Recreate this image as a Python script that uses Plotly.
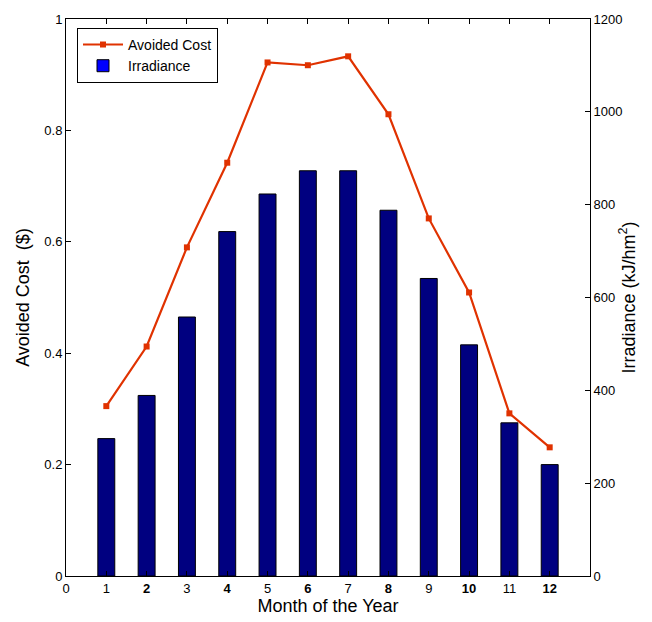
import plotly.graph_objects as go

months = list(range(1, 13))
avoided_cost = [0.305, 0.412, 0.590, 0.742, 0.922, 0.917, 0.933, 0.829, 0.642, 0.509, 0.292, 0.231]
irradiance = [296, 389, 558, 742, 823, 873, 873, 788, 641, 498, 330, 240]

x_tick_vals = list(range(0, 13))
x_tick_text = [f"<b>{m}</b>" if (m % 2 == 0 and m > 0) else str(m) for m in x_tick_vals]

font_family = "Liberation Sans, Arial, sans-serif"

fig = go.Figure()

# Irradiance bars on the right axis
fig.add_trace(go.Bar(
    x=months, y=irradiance, yaxis="y2", width=0.42,
    marker=dict(color="#000080", line=dict(color="black", width=1)),
    name="Irradiance", showlegend=False,
))

# Avoided cost line on the left axis
fig.add_trace(go.Scatter(
    x=months, y=avoided_cost, mode="lines+markers", name="Avoided Cost",
    line=dict(color="#E03200", width=2.2),
    marker=dict(symbol="square", size=6, color="#E03200"),
))

# Legend entry for the bars
fig.add_trace(go.Bar(
    x=[None], y=[None], yaxis="y2", name="Irradiance",
    marker=dict(color="#0000FF", line=dict(color="black", width=1)),
))

axis_common = dict(
    showgrid=False, zeroline=False, showline=True, linecolor="black", linewidth=1,
    ticks="inside", ticklen=5, tickcolor="black",
    tickfont=dict(family=font_family, size=13, color="black"),
)

fig.update_layout(
    width=652, height=622,
    margin=dict(l=66, r=62, t=14, b=42),
    paper_bgcolor="white", plot_bgcolor="white",
    font=dict(family=font_family, color="black"),
    barmode="overlay",
    xaxis=dict(
        range=[0, 13], tickvals=x_tick_vals, ticktext=x_tick_text, mirror="ticks",
        title=dict(text="Month of the Year", font=dict(size=18), standoff=2),
        **axis_common,
    ),
    yaxis=dict(
        range=[0, 1], tickvals=[0, 0.2, 0.4, 0.6, 0.8, 1],
        ticktext=["0", "0.2", "0.4", "0.6", "0.8", "1"],
        title=dict(text="Avoided Cost  ($)", font=dict(size=18), standoff=10),
        **axis_common,
    ),
    yaxis2=dict(
        range=[0, 1200], tickvals=[0, 200, 400, 600, 800, 1000, 1200],
        overlaying="y", side="right",
        title=dict(text="Irradiance (kJ/hm<sup>2</sup>)", font=dict(size=18), standoff=0),
        **axis_common,
    ),
    legend=dict(
        x=0.021, y=0.984, xanchor="left", yanchor="top",
        bgcolor="white", bordercolor="black", borderwidth=1,
        font=dict(family=font_family, size=14, color="black"),
        tracegroupgap=0, itemwidth=40,
    ),
)

fig.write_html("out.html")
